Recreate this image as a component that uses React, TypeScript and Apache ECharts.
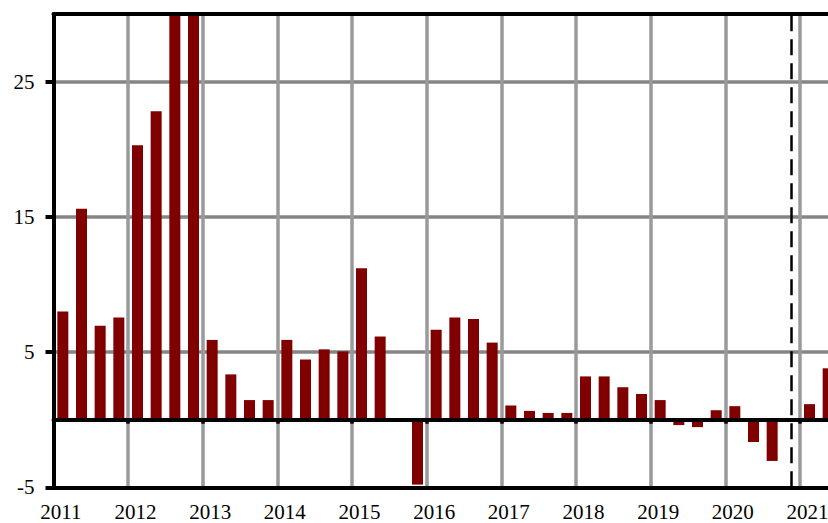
import React, { useEffect, useRef } from "react";
import * as echarts from "echarts";

const quarters: string[] = [
  "2011Q1", "2011Q2", "2011Q3", "2011Q4",
  "2012Q1", "2012Q2", "2012Q3", "2012Q4",
  "2013Q1", "2013Q2", "2013Q3", "2013Q4",
  "2014Q1", "2014Q2", "2014Q3", "2014Q4",
  "2015Q1", "2015Q2", "2015Q3", "2015Q4",
  "2016Q1", "2016Q2", "2016Q3", "2016Q4",
  "2017Q1", "2017Q2", "2017Q3", "2017Q4",
  "2018Q1", "2018Q2", "2018Q3", "2018Q4",
  "2019Q1", "2019Q2", "2019Q3", "2019Q4",
  "2020Q1", "2020Q2", "2020Q3", "2020Q4",
  "2021Q1", "2021Q2",
];

const growth: number[] = [
  8.0, 15.6, 6.95, 7.55,
  20.3, 22.8, 35.0, 33.0,
  5.9, 3.35, 1.45, 1.45,
  5.9, 4.45, 5.2, 5.05,
  11.2, 6.15, 0, -4.8,
  6.65, 7.55, 7.45, 5.7,
  1.05, 0.65, 0.5, 0.5,
  3.2, 3.2, 2.4, 1.9,
  1.45, -0.4, -0.55, 0.7,
  1.0, -1.65, -3.05, 0,
  1.15, 3.8,
];

const yTickValues: number[] = [-5, 5, 15, 25];
const forecastStart = "2020Q4";

const FONT = "'Liberation Serif', 'Times New Roman', serif";

export default function App() {
  const ref = useRef<HTMLDivElement>(null);

  useEffect(() => {
    if (!ref.current) return;
    const chart = echarts.init(ref.current, undefined, { renderer: "svg" });
    const yBase = { type: "value", min: -5, max: 30, interval: 10 };
    chart.setOption({
      animation: false,
      backgroundColor: "#ffffff",
      grid: { left: 53.5, top: 14, right: -9.5, bottom: 35.7, containLabel: false, outerBoundsMode: "none" },
      xAxis: [
        {
          type: "category",
          data: quarters,
          position: "bottom",
          z: 0,
          axisLine: { show: false, onZero: false },
          axisTick: { show: false },
          axisLabel: { show: false },
          splitLine: { show: true, interval: 3, lineStyle: { color: "#9a9a9a", width: 3.5 } },
        },
        {
          type: "category",
          data: quarters,
          position: "bottom",
          z: 10,
          axisLine: { show: true, onZero: false, lineStyle: { color: "#000", width: 4 } },
          axisTick: { show: false },
          axisLabel: {
            show: true,
            interval: 3,
            margin: 14.5,
            fontSize: 21,
            fontFamily: FONT,
            color: "#000",
            padding: [0, 4, 0, 0],
            formatter: (v: string) => v.slice(0, 4),
          },
          splitLine: { show: false },
        },
        {
          type: "category",
          data: quarters,
          position: "bottom",
          z: 10,
          axisLine: { show: true, onZero: true, lineStyle: { color: "#000", width: 4 } },
          axisTick: { show: true, interval: 3, length: 4, lineStyle: { color: "#000", width: 3.5 } },
          axisLabel: { show: false },
          splitLine: { show: false },
        },
        {
          type: "category",
          data: quarters,
          position: "top",
          z: 10,
          axisLine: { show: true, onZero: false, lineStyle: { color: "#000", width: 4 } },
          axisTick: { show: false },
          axisLabel: { show: false },
          splitLine: { show: false },
        },
      ],
      yAxis: [
        {
          ...yBase,
          position: "left",
          z: 0,
          axisLine: { show: false },
          axisTick: { show: false },
          axisLabel: { show: false },
          splitLine: { show: true, lineStyle: { color: "#858585", width: 3.5 } },
        },
        {
          ...yBase,
          position: "left",
          z: 10,
          axisLine: { show: true, onZero: false, lineStyle: { color: "#000", width: 4 } },
          axisTick: { show: true, customValues: yTickValues, length: 8, lineStyle: { color: "#000", width: 4 } },
          axisLabel: {
            show: true,
            customValues: yTickValues,
            margin: 19,
            fontSize: 21,
            fontFamily: FONT,
            color: "#000",
          },
          splitLine: { show: false },
        },
      ],
      series: [
        {
          type: "bar",
          xAxisIndex: 0,
          yAxisIndex: 0,
          data: growth,
          barWidth: 11,
          clip: true,
          itemStyle: { color: "#800000" },
          markLine: {
            silent: true,
            symbol: "none",
            label: { show: false },
            lineStyle: { color: "#000", width: 2.5, type: [16, 8] },
            data: [{ xAxis: forecastStart }],
          },
        },
      ],
    });
    return () => chart.dispose();
  }, []);

  return (
    <div
      ref={ref}
      style={{ position: "fixed", left: 0, top: 0, width: 828, height: 523, background: "#fff" }}
    />
  );
}
